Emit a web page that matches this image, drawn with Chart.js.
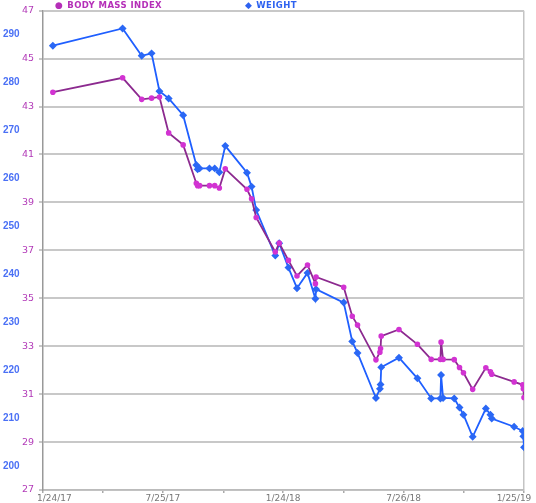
<!DOCTYPE html>
<html>
<head>
<meta charset="utf-8">
<script src="https://cdn.jsdelivr.net/npm/chart.js@4/dist/chart.umd.min.js"></script>
<style>
  body { margin: 0; background: #fff; }
  #wrap { position: relative; width: 536px; height: 503px; }
  .legende { position: absolute; top: 0; font: bold 8.5px "DejaVu Sans", sans-serif; letter-spacing: 0.4px; white-space: nowrap; }
  .legende span { font-size: 9px; margin-right: 4px; }
</style>
</head>
<body>
<div id="wrap">
  <canvas id="chart-poids" width="536" height="503"></canvas>
  <div class="legende" id="leg-bmi" style="left:55px;color:#b52fb8"><span>●</span>BODY MASS INDEX</div>
  <div class="legende" id="leg-poids" style="left:245px;color:#2e62f0"><span>◆</span>WEIGHT</div>
</div>
<script>
const dateDebut = "2017-01-24";

const dates = [
    "2017-02-08", "2017-05-25", "2017-06-23", "2017-07-08", "2017-07-20", "2017-08-03",
    "2017-08-25", "2017-09-14", "2017-09-16", "2017-09-19", "2017-10-04", "2017-10-12",
    "2017-10-19", "2017-10-28", "2017-11-30", "2017-12-07", "2017-12-14", "2018-01-12",
    "2018-01-18", "2018-02-01", "2018-02-14", "2018-03-02", "2018-03-14", "2018-03-15",
    "2018-04-26", "2018-05-09", "2018-05-17", "2018-06-14", "2018-06-20", "2018-06-21",
    "2018-06-22", "2018-07-19", "2018-08-16", "2018-09-06", "2018-09-20", "2018-09-21",
    "2018-09-24", "2018-10-11", "2018-10-19", "2018-10-25", "2018-11-08", "2018-11-28",
    "2018-12-05", "2018-12-07", "2019-01-10", "2019-01-23", "2019-01-24", "2019-01-25"
];

const bmi = [
    43.6, 44.2, 43.3, 43.35, 43.4, 41.9,
    41.4, 39.8, 39.7, 39.7, 39.7, 39.7,
    39.6, 40.4, 39.55, 39.15, 38.37, 36.93,
    37.3, 36.58, 35.93, 36.39, 35.61, 35.89,
    35.46, 34.25, 33.88, 32.43, 32.75, 32.9,
    33.42, 33.7, 33.08, 32.45, 32.45, 33.17,
    32.45, 32.44, 32.11, 31.89, 31.2, 32.1,
    31.93, 31.83, 31.51, 31.39, 31.22, 30.86
];

const poids = [
    287.7, 291.3, 285.6, 286.1, 278.2, 276.7,
    273.2, 262.8, 261.9, 262.1, 262.1, 262.1,
    261.3, 266.8, 261.2, 258.3, 253.4, 243.9,
    246.5, 241.4, 237.1, 240.3, 234.9, 236.9,
    234.1, 226.0, 223.6, 214.2, 216.1, 217.0,
    220.6, 222.6, 218.3, 214.1, 214.1, 219.0,
    214.2, 214.1, 212.2, 210.7, 206.1, 212.0,
    210.7, 209.9, 208.2, 207.3, 206.2, 203.9
];

const etiquettesX = ["1/24/17", "7/25/17", "1/24/18", "7/26/18", "1/25/19"];
const ticksBmi = [27, 29, 31, 33, 35, 37, 39, 41, 43, 45, 47];
const ticksPoids = [200, 210, 220, 230, 240, 250, 260, 270, 280, 290];

const JOUR = 86400000;
const t0 = Date.parse(dateDebut);

function jour(iso) {
    return (Date.parse(iso) - t0) / JOUR;
}

function jourEtiquette(txt) {
    const [m, d, y] = txt.split("/").map(Number);
    return (Date.UTC(2000 + y, m - 1, d) - t0) / JOUR;
}

// ticks majeurs (avec texte) + un tick mineur entre chaque
const joursMajeurs = etiquettesX.map(jourEtiquette);
const ticksX = [];
joursMajeurs.forEach((j, i) => {
    let label = etiquettesX[i];
    // décale la première et la dernière étiquette vers l'intérieur, comme Excel
    if (i === 0) label = "        " + label;
    if (i === joursMajeurs.length - 1) label = label + "       ";
    ticksX.push({ value: j, label: label });
    if (i < joursMajeurs.length - 1) {
        ticksX.push({ value: Math.round((j + joursMajeurs[i + 1]) / 2), label: "" });
    }
});
const finX = joursMajeurs[joursMajeurs.length - 1];

const pointsBmi = dates.map((d, i) => ({ x: jour(d), y: bmi[i] }));
const pointsPoids = dates.map((d, i) => ({ x: jour(d), y: poids[i] }));

const canvas = document.getElementById("chart-poids");

new Chart(canvas, {
    type: "line",
    data: {
        datasets: [
            {
                label: "BODY MASS INDEX",
                data: pointsBmi,
                yAxisID: "yBmi",
                borderColor: "#8c2a8f",
                backgroundColor: "#d233d2",
                pointBorderColor: "#d233d2",
                pointBackgroundColor: "#d233d2",
                pointStyle: "circle",
                pointRadius: 1.9,
                borderWidth: 1.8,
                tension: 0
            },
            {
                label: "WEIGHT",
                data: pointsPoids,
                yAxisID: "yPoids",
                borderColor: "#1f5fff",
                backgroundColor: "#2b68f5",
                pointBorderColor: "#2b68f5",
                pointBackgroundColor: "#2b68f5",
                pointStyle: "rectRot",
                pointRadius: 2.7,
                borderWidth: 1.8,
                tension: 0
            }
        ]
    },
    options: {
        responsive: false,
        animation: false,
        layout: { padding: { left: 3, right: 12, top: 10, bottom: 0 } },
        plugins: {
            legend: { display: false },
            tooltip: { enabled: false }
        },
        scales: {
            x: {
                type: "linear",
                min: 0,
                max: finX,
                afterBuildTicks: (scale) => {
                    scale.ticks = ticksX.map(t => ({ value: t.value }));
                },
                afterFit: (scale) => {
                    scale.height = 13;
                    scale.paddingLeft = 0;
                    scale.paddingRight = 0;
                },
                ticks: {
                    autoSkip: false,
                    maxRotation: 0,
                    padding: 0,
                    color: "#777",
                    font: { family: "DejaVu Sans", size: 9 },
                    callback: (value) => {
                        const t = ticksX.find(tk => tk.value === value);
                        return t ? t.label : "";
                    }
                },
                grid: {
                    drawTicks: true,
                    tickLength: 3,
                    tickColor: "#aaa",
                    lineWidth: 1.5,
                    color: (ctx) => (ctx.tick && ctx.tick.value === finX ? "#c4c4c4" : "rgba(0,0,0,0)")
                },
                border: { color: "#bbb", width: 1.5 }
            },
            yBmi: {
                type: "linear",
                position: "left",
                weight: 0,
                min: 27,
                max: 47,
                afterBuildTicks: (scale) => {
                    scale.ticks = ticksBmi.map(v => ({ value: v }));
                },
                afterFit: (scale) => { scale.width = 23; },
                ticks: {
                    padding: 5,
                    color: "#b23ab8",
                    font: { family: "DejaVu Sans", size: 9.5 }
                },
                grid: {
                    color: "#c8c8c8",
                    lineWidth: 2,
                    tickLength: 4
                },
                border: { color: "#999", width: 1.5 }
            },
            yPoids: {
                type: "linear",
                position: "left",
                weight: 1,
                min: 195,
                max: 295,
                afterBuildTicks: (scale) => {
                    scale.ticks = ticksPoids.map(v => ({ value: v }));
                },
                afterFit: (scale) => { scale.width = 17; },
                ticks: {
                    padding: 0,
                    crossAlign: "far",
                    color: "#4a70f5",
                    font: { family: "Liberation Sans Narrow, Liberation Sans", size: 10, weight: "bold" }
                },
                grid: { display: false, drawOnChartArea: false },
                border: { display: false }
            }
        }
    }
});
</script>
</body>
</html>
